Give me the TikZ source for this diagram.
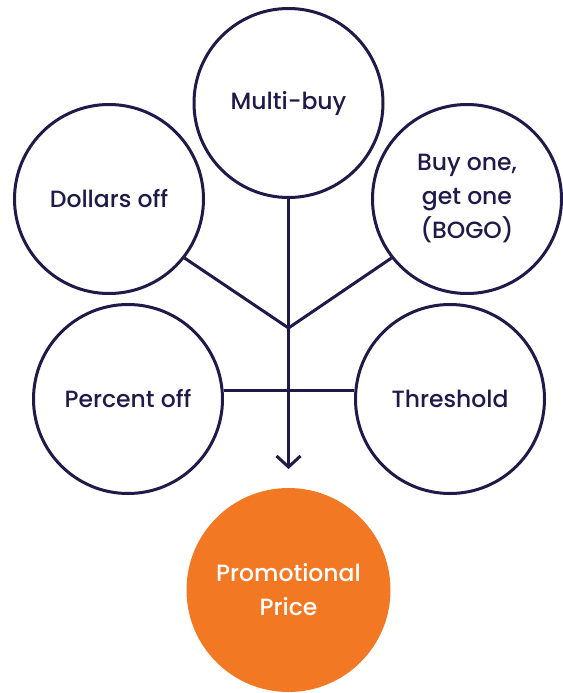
\documentclass[tikz,border=0pt]{standalone}
\usepackage{fontspec}
\setmainfont{Poppins Medium}
\usetikzlibrary{arrows.meta}
\definecolor{navy}{HTML}{1F1A4A}
\definecolor{promo}{HTML}{F37824}
\tikzset{
	option/.style={circle, draw=navy, line width=3pt, minimum size=189pt, inner sep=0pt,
		text=navy, align=center, font=\fontsize{23.5}{34}\selectfont},
	result/.style={circle, fill=promo, minimum size=204pt, inner sep=0pt,
		text=white, align=center, font=\fontsize{23.5}{34}\selectfont},
	link/.style={draw=navy, line width=3pt}
}
\begin{document}
\begin{tikzpicture}[x=1pt, y=-1pt]
		\useasboundingbox (0,0) rectangle (562,693);
		\node[option] (multi) at (288.5,103) {Multi-buy};
		\node[option] (dollars) at (109,199) {Dollars off};
		\node[option] (bogo) at (467,199) {Buy one,\\get one\\(BOGO)};
		\node[option] (percent) at (128,399) {Percent off};
		\node[option] (threshold) at (450,399) {Threshold};
		\node[result] (price) at (288.5,590) {Promotional\\Price};
		\coordinate (join) at (288.5,328);
		\coordinate (tip) at (288.5,469);
		\draw[link] (dollars.-38) -- (join) -- (bogo.-142);
		\draw[link] (percent.5) -- (threshold.175);
		\draw[link, -{Straight Barb[length=11pt, width=24pt, line width=3pt]}] (multi.south) -- (tip);
	\end{tikzpicture}
\end{document}
